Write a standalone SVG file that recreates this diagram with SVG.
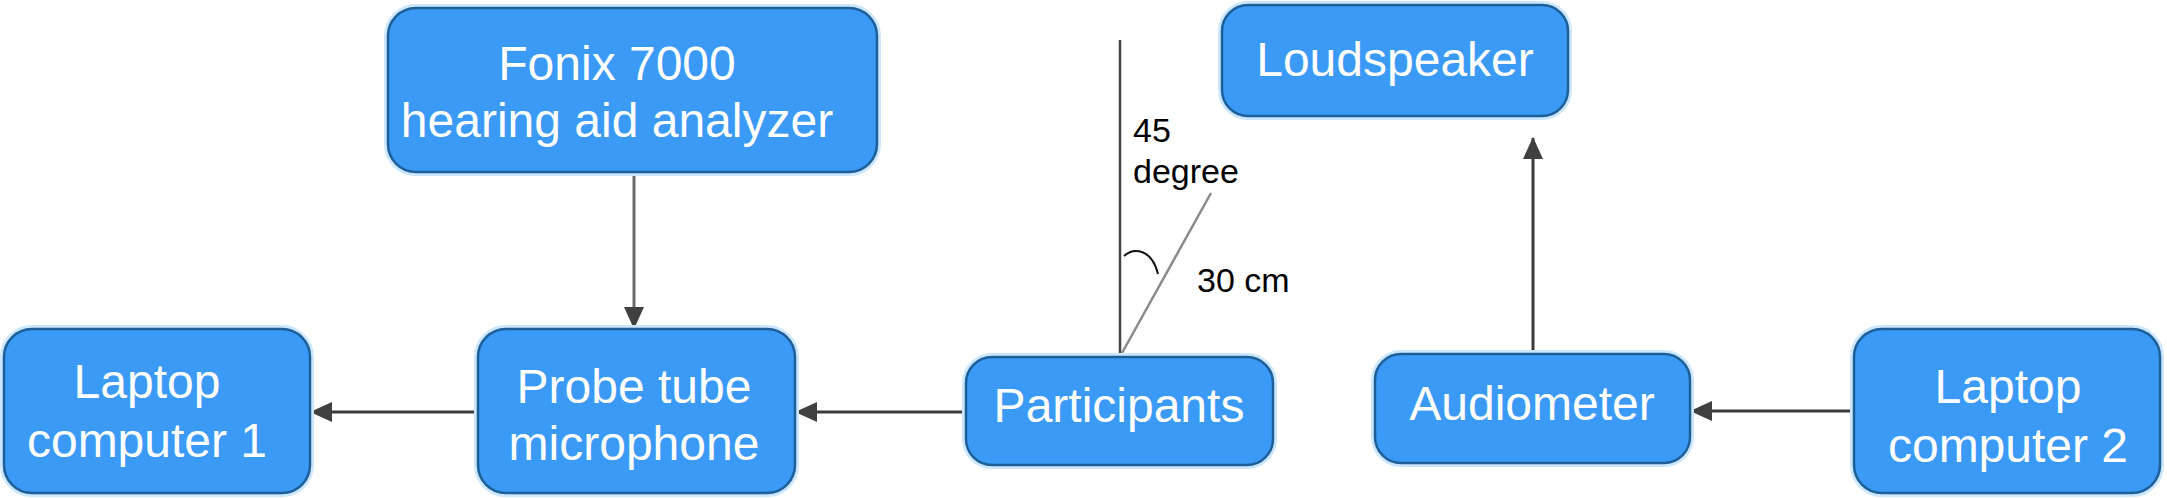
<svg xmlns="http://www.w3.org/2000/svg" width="2167" height="498" viewBox="0 0 2167 498">
<defs>
<style>
.glow{fill:none;stroke:#cbe6ff;stroke-width:8;}
.box{fill:#3b9af6;stroke:#1e5f98;stroke-width:2.5;}
.t{font-family:"Liberation Sans",Arial,Helvetica,sans-serif;font-size:48px;fill:#ffffff;text-anchor:middle;}
.lbl{font-family:"Liberation Sans",Arial,Helvetica,sans-serif;font-size:34px;fill:#000000;}
.conn{stroke:#3c3c3c;stroke-width:3;fill:none;}
</style>
<marker id="arr" viewBox="0 0 22 20" refX="21" refY="10" markerWidth="22" markerHeight="20" orient="auto" markerUnits="userSpaceOnUse">
<path d="M0,0 L22,10 L0,20 Z" fill="#404040"/>
</marker>
</defs>
<rect width="2167" height="498" fill="#ffffff"/>

<g id="connectors">
<line class="conn" x1="634" y1="173" x2="634" y2="328" marker-end="url(#arr)" style="stroke:#6a6a6a"/>
<line class="conn" x1="478" y1="412" x2="311" y2="412" marker-end="url(#arr)"/>
<line class="conn" x1="966" y1="412" x2="796" y2="412" marker-end="url(#arr)"/>
<line class="conn" x1="1533" y1="354" x2="1533" y2="138" marker-end="url(#arr)"/>
<line class="conn" x1="1854" y1="411" x2="1691" y2="411" marker-end="url(#arr)"/>
</g>

<g id="angle">
<line x1="1120" y1="40" x2="1120" y2="357" stroke="#444444" stroke-width="2.5"/>
<line x1="1122" y1="353" x2="1211" y2="193" stroke="#8a8a8a" stroke-width="2.5"/>
<path d="M1124,256 C1134,247 1152,249 1158,274" fill="none" stroke="#111111" stroke-width="2"/>
<text class="lbl" x="1133" y="142">45</text>
<text class="lbl" x="1133" y="183">degree</text>
<text class="lbl" x="1197" y="292">30 cm</text>
</g>

<g id="fonix">
<rect class="glow" x="388" y="8" width="489" height="164" rx="28"/>
<rect class="box" x="388" y="8" width="489" height="164" rx="28"/>
<text class="t" x="617" y="80">Fonix 7000</text>
<text class="t" x="617" y="137">hearing aid analyzer</text>
</g>

<g id="loudspeaker">
<rect class="glow" x="1222" y="5" width="346" height="111" rx="26"/>
<rect class="box" x="1222" y="5" width="346" height="111" rx="26"/>
<text class="t" x="1395" y="76">Loudspeaker</text>
</g>

<g id="laptop1">
<rect class="glow" x="4" y="329" width="306" height="164" rx="28"/>
<rect class="box" x="4" y="329" width="306" height="164" rx="28"/>
<text class="t" x="147" y="398">Laptop</text>
<text class="t" x="147" y="457">computer 1</text>
</g>

<g id="probe">
<rect class="glow" x="478" y="329" width="317" height="164" rx="28"/>
<rect class="box" x="478" y="329" width="317" height="164" rx="28"/>
<text class="t" x="634" y="403">Probe tube</text>
<text class="t" x="634" y="460">microphone</text>
</g>

<g id="participants">
<rect class="glow" x="966" y="357" width="307" height="108" rx="26"/>
<rect class="box" x="966" y="357" width="307" height="108" rx="26"/>
<text class="t" x="1119" y="422">Participants</text>
</g>

<g id="audiometer">
<rect class="glow" x="1375" y="354" width="315" height="109" rx="26"/>
<rect class="box" x="1375" y="354" width="315" height="109" rx="26"/>
<text class="t" x="1532" y="420">Audiometer</text>
</g>

<g id="laptop2">
<rect class="glow" x="1854" y="329" width="306" height="164" rx="28"/>
<rect class="box" x="1854" y="329" width="306" height="164" rx="28"/>
<text class="t" x="2008" y="403">Laptop</text>
<text class="t" x="2008" y="462">computer 2</text>
</g>
</svg>
